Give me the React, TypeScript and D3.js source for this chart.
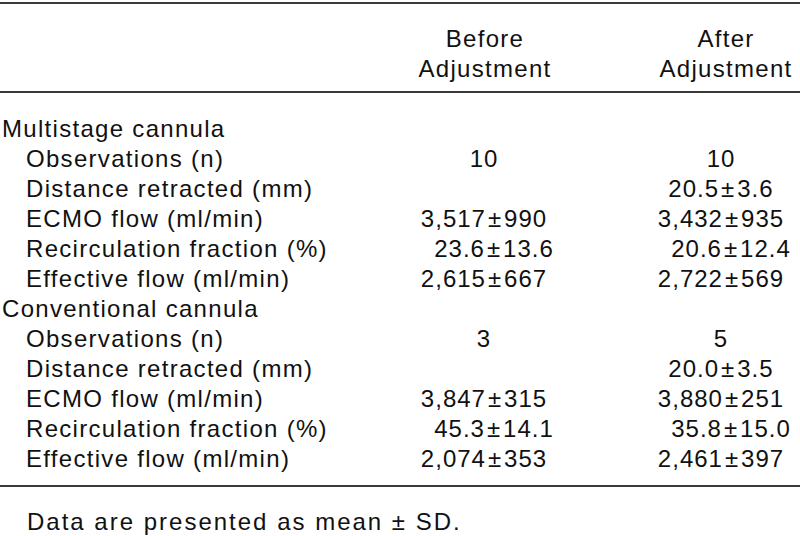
import React from "react";
import * as d3 from "d3";

const groups = ["Multistage cannula", "Conventional cannula"];
const measures = [
  "Observations (n)",
  "Distance retracted (mm)",
  "ECMO flow (ml/min)",
  "Recirculation fraction (%)",
  "Effective flow (ml/min)",
];
const measureFormats = ["d", ".1f", ",", ".1f", ","];
const columnHeaders = [
  ["Before", "Adjustment"],
  ["After", "Adjustment"],
];

const multistageBeforeMean = [10, null, 3517, 23.6, 2615];
const multistageBeforeSD = [null, null, 990, 13.6, 667];
const multistageAfterMean = [10, 20.5, 3432, 20.6, 2722];
const multistageAfterSD = [null, 3.6, 935, 12.4, 569];
const conventionalBeforeMean = [3, null, 3847, 45.3, 2074];
const conventionalBeforeSD = [null, null, 315, 14.1, 353];
const conventionalAfterMean = [5, 20.0, 3880, 35.8, 2461];
const conventionalAfterSD = [null, 3.5, 251, 15.0, 397];

const footnote = "Data are presented as mean \u00b1 SD.";

const W = 800;
const H = 536;
const FONT = "'Liberation Sans', Arial, Helvetica, sans-serif";
const FS = 24;
const LS = 1.3;

type Cell = { mean: string; sd: string | null } | null;
type Row = { label: string; indent: boolean; cells: Cell[]; measure: number };

function cell(mean: number | null, sd: number | null, fmt: string): Cell {
  if (mean === null) return null;
  const f = d3.format(fmt);
  return { mean: f(mean), sd: sd === null ? null : f(sd) };
}

const blocks = [
  { bm: multistageBeforeMean, bs: multistageBeforeSD, am: multistageAfterMean, as: multistageAfterSD },
  { bm: conventionalBeforeMean, bs: conventionalBeforeSD, am: conventionalAfterMean, as: conventionalAfterSD },
];

const rows: Row[] = [];
groups.forEach((g, gi) => {
  rows.push({ label: g, indent: false, cells: [null, null], measure: -1 });
  measures.forEach((m, mi) => {
    const b = blocks[gi];
    rows.push({
      label: m,
      indent: true,
      measure: mi,
      cells: [
        cell(b.bm[mi], b.bs[mi], measureFormats[mi]),
        cell(b.am[mi], b.as[mi], measureFormats[mi]),
      ],
    });
  });
});

export default function App() {
  const y = d3.scaleLinear().domain([0, rows.length - 1]).range([137, 467]);
  const x = d3.scalePoint<number>().domain([0, 1]).range([484, 721]);
  const hx = d3.scalePoint<number>().domain([0, 1]).range([485, 726]);
  const headerY = d3.scaleLinear().domain([0, 1]).range([46.5, 77]);

  const textStyle = { fontFamily: FONT, fontSize: FS, letterSpacing: LS, fill: "#111" } as const;

  return (
    <svg
      width={W}
      height={H}
      viewBox={`0 0 ${W} ${H}`}
      style={{ position: "absolute", left: 0, top: 0, background: "#fff" }}
    >
      <rect x={0} y={0} width={W} height={H} fill="#fff" />
      <line x1={0} x2={W} y1={3} y2={3} stroke="#3a3a3a" strokeWidth={2} />
      <line x1={0} x2={W} y1={92} y2={92} stroke="#3a3a3a" strokeWidth={2} />
      <line x1={0} x2={W} y1={486} y2={486} stroke="#3a3a3a" strokeWidth={2} />

      {columnHeaders.map((lines, ci) =>
        lines.map((t, li) => (
          <text key={`h${ci}${li}`} x={hx(ci)} y={headerY(li)} textAnchor="middle" {...textStyle}>
            {t}
          </text>
        ))
      )}

      {rows.map((r, ri) => (
        <g key={`r${ri}`}>
          <text x={r.indent ? 26 : 2} y={y(ri)} {...textStyle}>
            {r.label}
          </text>
          {r.cells.map((c, ci) =>
            c === null ? null : (
              <text
                key={`c${ci}`}
                x={(x(ci) as number) + (r.measure === 3 ? 10 : 0)}
                y={y(ri)}
                textAnchor="middle"
                {...textStyle}
                letterSpacing={1.0}
              >
                <tspan>{c.mean}</tspan>
                {c.sd !== null && <tspan dx={2}>{"\u00b1"}</tspan>}
                {c.sd !== null && <tspan dx={2}>{c.sd}</tspan>}
              </text>
            )
          )}
        </g>
      ))}

      <text x={27} y={530} {...textStyle} letterSpacing={2.0}>
        {footnote}
      </text>
    </svg>
  );
}
